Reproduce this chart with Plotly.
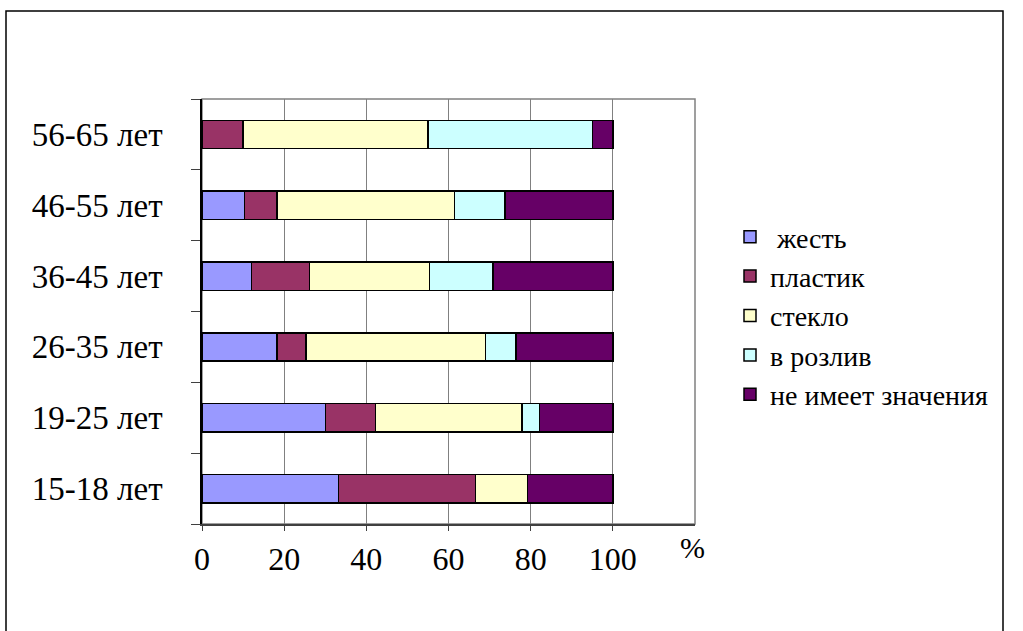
import plotly.graph_objects as go

categories = ["15-18 лет", "19-25 лет", "26-35 лет", "36-45 лет", "46-55 лет", "56-65 лет"]
series_names = ["\u00a0жесть", "пластик", "стекло", "в розлив", "не имеет значения"]
zhest = [33.2, 30.0, 18.2, 12.0, 10.3, 0.0]
plastik = [33.4, 12.2, 7.1, 14.2, 8.0, 10.0]
steklo = [12.6, 35.7, 43.7, 29.2, 43.1, 45.0]
rozliv = [0.0, 4.2, 7.4, 15.4, 12.3, 40.0]
ne_imeet = [20.8, 17.9, 23.6, 29.2, 26.3, 5.0]
x_ticks = [0, 20, 40, 60, 80, 100]
colors = ["#9999FF", "#993366", "#FFFFCC", "#CCFFFF", "#660066"]

FONT = "Times New Roman"

fig = go.Figure()
for i, (name, vals) in enumerate(zip(series_names, [zhest, plastik, steklo, rozliv, ne_imeet])):
    fig.add_trace(go.Bar(
        y=categories, x=vals, name=name, orientation="h",
        marker=dict(color=colors[i], line=dict(color="black", width=1.5)),
        legendgroup=f"g{i}",
    ))

L, R, T, B = 202, 1023 - 695, 99, 631 - 524
W = 1023 - L - R
H = 631 - T - B

fig.update_layout(
    width=1023, height=631,
    barmode="stack", bargap=0.6,
    paper_bgcolor="white", plot_bgcolor="white",
    margin=dict(l=L, r=R, t=T, b=B, pad=0),
    font=dict(family=FONT, size=30, color="black"),
    showlegend=True,
    legend=dict(
        x=(730 - L) / W, y=(524 - 212) / H, xanchor="left", yanchor="top",
        traceorder="normal", tracegroupgap=0,
        font=dict(family=FONT, size=28, color="black"),
        bgcolor="rgba(0,0,0,0)",
    ),
    xaxis=dict(
        range=[0, 120], tickvals=x_ticks, ticktext=[str(v) for v in x_ticks],
        showgrid=True, gridcolor="#808080", gridwidth=1,
        showline=True, linecolor="#404040", linewidth=1.5,
        ticks="outside", ticklen=5, tickcolor="#404040",
        ticklabelstandoff=1, zeroline=False,
        tickfont=dict(family=FONT, size=32, color="black"),
    ),
    yaxis=dict(
        categoryorder="array", categoryarray=categories,
        showgrid=False, showline=True, linecolor="black", linewidth=1.5,
        ticks="outside", ticklen=9, tickson="boundaries", tickcolor="#404040",
        ticklabelstandoff=31,
        tickfont=dict(family=FONT, size=33, color="black"),
    ),
    shapes=[
        dict(type="rect", xref="paper", yref="paper", x0=0, x1=1, y0=0, y1=1,
             line=dict(color="#808080", width=1.5), layer="below"),
        dict(type="rect", xref="paper", yref="paper",
             x0=(6 - L) / W, x1=(1003 - L) / W, y0=-0.5, y1=(524 - 11) / H,
             line=dict(color="black", width=1.5), layer="above"),
    ],
    annotations=[
        dict(text="%", xref="paper", yref="paper", x=(692 - L) / W, y=(524 - 547) / H,
             showarrow=False, font=dict(family=FONT, size=30, color="black"),
             xanchor="center", yanchor="middle"),
    ],
)

fig.write_html("out.html", config={"displayModeBar": False},
               post_script="document.body.style.margin='0px';")
